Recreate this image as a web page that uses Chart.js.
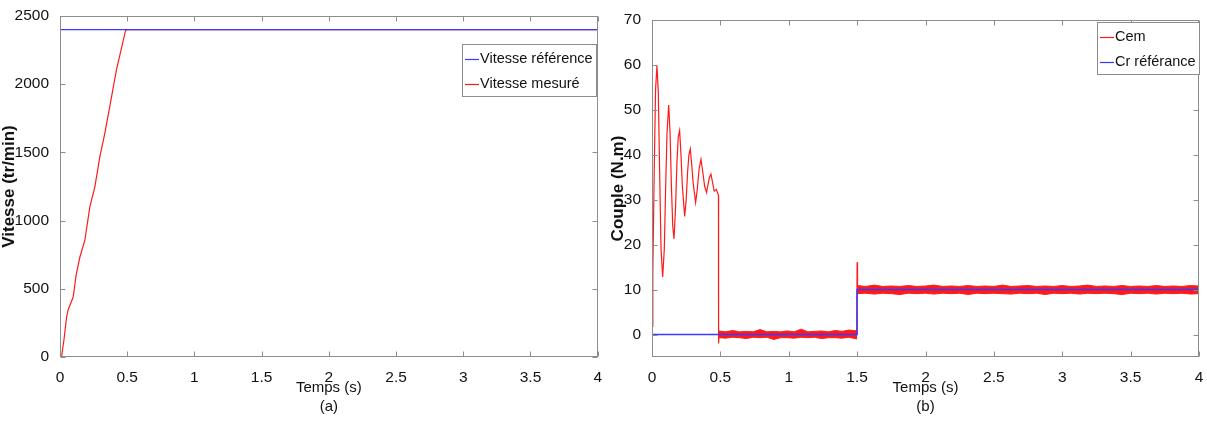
<!DOCTYPE html>
<html>
<head>
<meta charset="utf-8">
<script src="https://cdn.jsdelivr.net/npm/chart.js@4/dist/chart.umd.min.js"></script>
<style>
body { margin: 0; background: #fff; width: 1207px; height: 427px; position: relative; overflow: hidden; }
canvas { position: absolute; top: 0; }
#speedChart { left: 0; }
#coupleChart { left: 605px; }
</style>
</head>
<body>
<canvas id="speedChart" width="605" height="427"></canvas>
<canvas id="coupleChart" width="602" height="427"></canvas>
<script>
const xTicks = [0, 0.5, 1, 1.5, 2, 2.5, 3, 3.5, 4];

// (a) vitesse
const speedTime = [0, 0.012, 0.03, 0.049, 0.06, 0.074, 0.098, 0.12, 0.148, 0.185, 0.222, 0.259, 0.296, 0.333, 0.37, 0.419, 0.488, 0.5, 4];
const speedMeasured = [0, 5, 130, 293, 345, 379, 440, 600, 733, 856, 1100, 1246, 1466, 1638, 1833, 2102, 2395, 2400, 2400];
const speedRefTime = [0, 4];
const speedRef = [2400, 2400];
const speedTicks = [0, 500, 1000, 1500, 2000, 2500];

// (b) couple
const cemTime = [0, 0.006, 0.016, 0.026, 0.036, 0.046, 0.056, 0.066, 0.078, 0.09, 0.1, 0.11, 0.122, 0.132, 0.142, 0.152, 0.161, 0.172, 0.182, 0.192, 0.202, 0.212, 0.222, 0.239, 0.25, 0.26, 0.27, 0.28, 0.29, 0.3, 0.319, 0.33, 0.345, 0.358, 0.37, 0.385, 0.399, 0.41, 0.42, 0.431, 0.445, 0.455, 0.47, 0.48, 0.486, 0.487, 0.49];
const cemValues = [1.8, 13.7, 36, 54.5, 59.8, 54, 36, 19, 12.8, 19, 33, 45, 51.1, 45, 33, 24, 21.3, 28, 38, 44, 45.4, 40, 33, 26.3, 30, 36, 40, 41.3, 38, 34, 29.4, 32, 37, 39, 36.5, 33, 31.6, 33.5, 35, 35.7, 33.5, 31.9, 32.3, 31.5, 31, -2, 0.3];
const spikeTime = [1.497, 1.5, 1.503];
const spikeValues = [0.9, 16.1, 10.6];
const bandLowTime = [0.49, 0.54, 0.59, 0.64, 0.69, 0.74, 0.79, 0.84, 0.89, 0.94, 0.99, 1.04, 1.09, 1.14, 1.19, 1.24, 1.29, 1.34, 1.39, 1.44, 1.5];
const bandLowUp = [0.8, 0.6, 0.9, 0.6, 0.7, 0.6, 1.1, 0.6, 0.7, 0.6, 0.8, 0.6, 1.2, 0.6, 0.7, 0.8, 0.6, 0.9, 0.7, 1.0, 0.8];
const bandLowDown = [-0.7, -0.8, -0.6, -0.7, -0.9, -0.6, -0.7, -0.6, -1.1, -0.7, -0.7, -0.8, -0.6, -0.7, -0.6, -0.9, -0.7, -0.7, -0.8, -0.6, -1.0];
const bandHighTime = [1.5, 1.5625, 1.625, 1.6875, 1.75, 1.8125, 1.875, 1.9375, 2, 2.0625, 2.125, 2.1875, 2.25, 2.3125, 2.375, 2.4375, 2.5, 2.5625, 2.625, 2.6875, 2.75, 2.8125, 2.875, 2.9375, 3, 3.0625, 3.125, 3.1875, 3.25, 3.3125, 3.375, 3.4375, 3.5, 3.5625, 3.625, 3.6875, 3.75, 3.8125, 3.875, 3.9375, 4];
const bandHighUp = [10.9, 10.7, 11.0, 10.7, 10.8, 10.7, 10.9, 10.7, 10.8, 11.0, 10.7, 10.8, 10.7, 10.9, 10.7, 10.8, 10.7, 11.0, 10.7, 10.8, 10.9, 10.7, 10.8, 10.7, 10.9, 10.7, 10.8, 11.0, 10.7, 10.8, 10.7, 10.9, 10.7, 10.8, 10.7, 10.9, 10.7, 10.8, 10.7, 10.9, 10.8];
const bandHighDown = [9.1, 9.2, 9.0, 9.2, 9.1, 8.9, 9.2, 9.1, 9.2, 9.0, 9.2, 9.1, 9.2, 8.9, 9.2, 9.1, 9.2, 9.1, 9.0, 9.2, 9.1, 9.2, 8.9, 9.2, 9.1, 9.2, 9.0, 9.2, 9.1, 9.2, 9.1, 8.9, 9.2, 9.1, 9.2, 9.0, 9.2, 9.1, 9.2, 9.0, 9.1];
const crTime = [0, 1.5, 1.5, 4];
const crValues = [0, 0, 10, 10];
const coupleTicks = [0, 10, 20, 30, 40, 50, 60, 70];

const SANS = "'Liberation Sans', Arial, sans-serif";
const RED = '#ff1a1a';
const BLUE = '#3a3aff';

const pts = (xs, ys) => xs.map((x, i) => ({ x: x, y: ys[i] }));

// matlab style box with inner ticks on the four sides
const frame = {
    id: 'frame',
    afterDatasetsDraw(chart) {
        const { ctx, chartArea: a, scales } = chart;
        const l = Math.round(a.left) + 0.5, r = Math.round(a.right) - 0.5;
        const t = Math.round(a.top) + 0.5, b = Math.round(a.bottom) - 0.5;
        ctx.save();
        ctx.strokeStyle = '#8c8c8c';
        ctx.lineWidth = 1;
        ctx.beginPath();
        scales.x.ticks.forEach(tk => {
            const px = Math.round(scales.x.getPixelForValue(tk.value)) + 0.5;
            ctx.moveTo(px, b); ctx.lineTo(px, b - 5);
            ctx.moveTo(px, t); ctx.lineTo(px, t + 5);
        });
        scales.y.ticks.forEach(tk => {
            const py = Math.round(scales.y.getPixelForValue(tk.value)) + 0.5;
            ctx.moveTo(l, py); ctx.lineTo(l + 5, py);
            ctx.moveTo(r, py); ctx.lineTo(r - 5, py);
        });
        ctx.stroke();
        ctx.strokeRect(l, t, r - l, b - t);
        ctx.restore();
    }
};

const boxLegend = {
    id: 'boxLegend',
    afterDraw(chart, args, opts) {
        const ctx = chart.ctx;
        ctx.save();
        ctx.fillStyle = '#fff';
        ctx.fillRect(opts.x, opts.y, opts.w, opts.h);
        ctx.strokeStyle = '#8c8c8c';
        ctx.lineWidth = 1;
        ctx.strokeRect(opts.x + 0.5, opts.y + 0.5, opts.w, opts.h);
        ctx.font = '14.5px ' + SANS;
        ctx.textBaseline = 'middle';
        opts.items.forEach((it, i) => {
            const y = opts.y + 14.5 + i * 25;
            ctx.strokeStyle = it.color;
            ctx.lineWidth = 1.2;
            ctx.beginPath();
            ctx.moveTo(opts.x + 3, Math.round(y) + 0.5);
            ctx.lineTo(opts.x + 17, Math.round(y) + 0.5);
            ctx.stroke();
            ctx.fillStyle = '#111';
            ctx.fillText(it.label, opts.x + 18, y);
        });
        ctx.restore();
    }
};

function makeOptions(cfg) {
    return {
        responsive: false,
        animation: false,
        layout: { padding: { top: cfg.padTop, right: cfg.padRight, left: 0, bottom: 0 } },
        plugins: { legend: { display: false }, tooltip: { enabled: false }, boxLegend: cfg.legend },
        elements: { point: { radius: 0 }, line: { tension: 0, borderWidth: 1.2 } },
        scales: {
            x: {
                type: 'linear', min: 0, max: 4,
                afterBuildTicks: s => { s.ticks = xTicks.map(v => ({ value: v })); },
                afterFit: s => { s.height = 70; },
                grid: { display: false }, border: { display: false },
                ticks: { color: '#111', padding: 3, font: { family: SANS, size: 15.5 }, maxRotation: 0, callback: v => String(v) },
                title: { display: true, text: ['Temps (s)', cfg.caption], color: '#111', font: { family: SANS, size: 15, lineHeight: 1.3 }, padding: { top: 0, bottom: 10 } }
            },
            y: {
                type: 'linear', min: cfg.yMin, max: cfg.yMax,
                afterBuildTicks: s => { s.ticks = cfg.yTicks.map(v => ({ value: v })); },
                afterFit: s => { s.width = cfg.yWidth; },
                grid: { display: false }, border: { display: false },
                ticks: { color: '#111', padding: 3, font: { family: SANS, size: 15.5 }, callback: v => String(v) },
                title: { display: true, text: cfg.yTitle, color: '#111', font: { family: SANS, size: 17, weight: 'bold', lineHeight: 1 }, padding: { top: cfg.titlePad, bottom: 0 } }
            }
        }
    };
}

new Chart(document.getElementById('speedChart'), {
    type: 'line',
    data: {
        datasets: [
            { label: 'Vitesse référence', data: pts(speedRefTime, speedRef), borderColor: BLUE },
            { label: 'Vitesse mesuré', data: pts(speedTime, speedMeasured), borderColor: RED }
        ]
    },
    options: makeOptions({
        yMin: 0, yMax: 2500, yTicks: speedTicks, yTitle: 'Vitesse (tr/min)', caption: '(a)',
        padTop: 16, padRight: 4, yWidth: 60, titlePad: 1,
        legend: { x: 462, y: 44, w: 134, h: 52, items: [{ label: 'Vitesse référence', color: BLUE }, { label: 'Vitesse mesuré', color: RED }] }
    }),
    plugins: [frame, boxLegend]
});

new Chart(document.getElementById('coupleChart'), {
    type: 'line',
    data: {
        datasets: [
            { label: 'Cem', data: pts(cemTime, cemValues), borderColor: RED, order: 3 },
            { label: 'band0up', data: pts(bandLowTime, bandLowUp), borderColor: RED, backgroundColor: RED, borderWidth: 1, fill: '+1', order: 3 },
            { label: 'band0down', data: pts(bandLowTime, bandLowDown), borderColor: RED, borderWidth: 1, order: 3 },
            { label: 'band10up', data: pts(bandHighTime, bandHighUp), borderColor: RED, backgroundColor: RED, borderWidth: 1, fill: '+1', order: 3 },
            { label: 'band10down', data: pts(bandHighTime, bandHighDown), borderColor: RED, borderWidth: 1, order: 3 },
            { label: 'spike', data: pts(spikeTime, spikeValues), borderColor: RED, order: 3 },
            { label: 'Cr référance', data: pts(crTime, crValues), borderColor: BLUE, borderWidth: 1.5, order: 1 }
        ]
    },
    options: makeOptions({
        yMin: -5, yMax: 70, yTicks: coupleTicks, yTitle: 'Couple (N.m)', caption: '(b)',
        padTop: 20, padRight: 8, yWidth: 47, titlePad: 5,
        legend: { x: 492, y: 22, w: 102, h: 52, items: [{ label: 'Cem', color: RED }, { label: 'Cr référance', color: BLUE }] }
    }),
    plugins: [frame, boxLegend]
});
</script>
</body>
</html>
